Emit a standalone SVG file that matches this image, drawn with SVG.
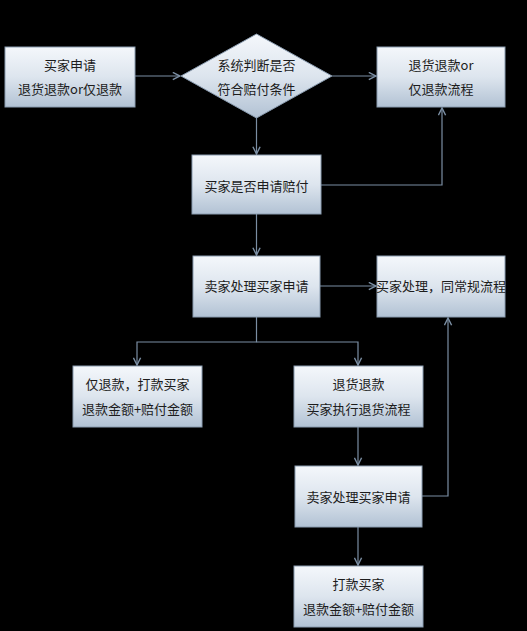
<svg xmlns="http://www.w3.org/2000/svg" width="527" height="631" viewBox="0 0 527 631">
<defs>
<linearGradient id="g" x1="0" y1="0" x2="0" y2="1">
<stop offset="0" stop-color="#f4f7fb"/>
<stop offset="0.5" stop-color="#dde5ee"/>
<stop offset="1" stop-color="#b2c2d4"/>
</linearGradient>
<marker id="a" viewBox="0 0 10 10" refX="9" refY="5" markerWidth="9" markerHeight="9" markerUnits="userSpaceOnUse" orient="auto">
<path d="M1,1 L9,5 L1,9" fill="none" stroke="#7b8ea3" stroke-width="1.6"/>
</marker>
<style>
.n{fill:url(#g);stroke:#8a9cb0;stroke-width:1}
.t{font-family:"Noto Sans CJK SC","Liberation Sans",sans-serif;font-size:13px;fill:#1c1c1c;text-anchor:middle}
.c{fill:none;stroke:#7b8ea3;stroke-width:1.2}
</style>
</defs>
<rect width="527" height="631" fill="#000"/>
<g id="connectors">
<path class="c" d="M135,76 H180" marker-end="url(#a)"/>
<path class="c" d="M332,76 H376" marker-end="url(#a)"/>
<path class="c" d="M256.5,118 V154" marker-end="url(#a)"/>
<path class="c" d="M321,185 H442 V108" marker-end="url(#a)"/>
<path class="c" d="M256.5,214 V255" marker-end="url(#a)"/>
<path class="c" d="M320,286 H376" marker-end="url(#a)"/>
<path class="c" d="M256.5,317 V342 H137 V365" marker-end="url(#a)"/>
<path class="c" d="M256.5,342 H358 V365" marker-end="url(#a)"/>
<path class="c" d="M358,427 V465" marker-end="url(#a)"/>
<path class="c" d="M422,496 H448 V318" marker-end="url(#a)"/>
<path class="c" d="M358,527 V565" marker-end="url(#a)"/>
</g>
<g id="n1"><rect class="n" x="5" y="47" width="130" height="60"/><text class="t" x="70" y="70">买家申请</text><text class="t" x="70" y="94">退货退款or仅退款</text></g>
<g id="n2"><polygon class="n" points="181,76 256.5,34 332,76 256.5,118"/><text class="t" x="256.5" y="70">系统判断是否</text><text class="t" x="256.5" y="94">符合赔付条件</text></g>
<g id="n3"><rect class="n" x="377" y="47" width="128" height="60"/><text class="t" x="441" y="70">退货退款or</text><text class="t" x="441" y="94">仅退款流程</text></g>
<g id="n4"><rect class="n" x="192" y="155" width="129" height="59"/><text class="t" x="256.5" y="191">买家是否申请赔付</text></g>
<g id="n5"><rect class="n" x="193" y="256" width="127" height="61"/><text class="t" x="256.5" y="291">卖家处理买家申请</text></g>
<g id="n6"><rect class="n" x="377" y="256" width="128" height="61"/><text class="t" x="441" y="291">买家处理，同常规流程</text></g>
<g id="n7"><rect class="n" x="73" y="366" width="129" height="61"/><text class="t" x="137.5" y="389">仅退款，打款买家</text><text class="t" x="137.5" y="414">退款金额+赔付金额</text></g>
<g id="n8"><rect class="n" x="294" y="366" width="129" height="61"/><text class="t" x="358.5" y="389">退货退款</text><text class="t" x="358.5" y="414">买家执行退货流程</text></g>
<g id="n9"><rect class="n" x="295" y="466" width="127" height="61"/><text class="t" x="358.5" y="502">卖家处理买家申请</text></g>
<g id="n10"><rect class="n" x="294" y="566" width="129" height="61"/><text class="t" x="358.5" y="589">打款买家</text><text class="t" x="358.5" y="614">退款金额+赔付金额</text></g>
</svg>
